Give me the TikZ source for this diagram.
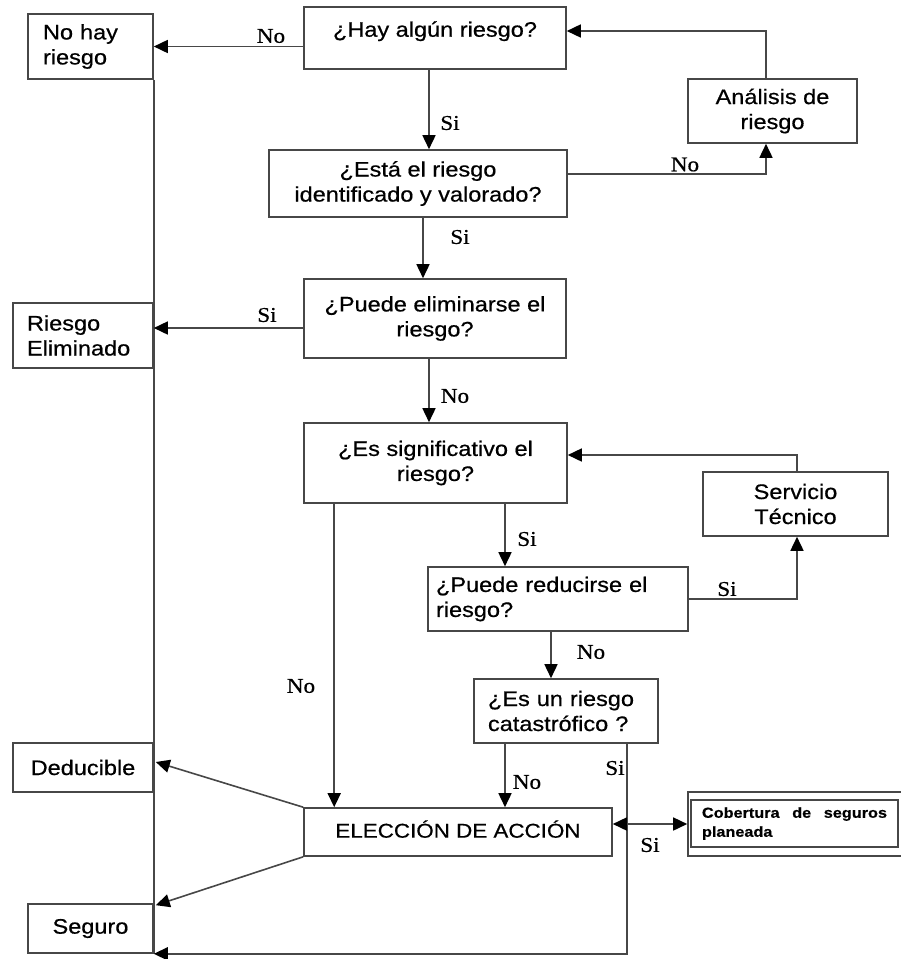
\documentclass[tikz,border=0pt]{standalone}
\usepackage{fontspec}
\setmainfont[FakeStretch=1.12,FakeBold=0.6]{Liberation Sans}
\newfontfamily\lblfont[FakeStretch=1.1,FakeBold=0.6]{Liberation Serif}
\usetikzlibrary{arrows.meta}
\tikzset{
  box/.style={draw=black!72, line width=1.6pt, inner sep=0pt, align=center,
    font=\fontsize{21}{25}\selectfont},
  lbox/.style={box, align=left},
  lbl/.style={font=\lblfont\fontsize{21}{25}\selectfont, inner sep=0pt},
  conn/.style={draw=black!72, line width=1.6pt},
  tip/.tip={Triangle[length=14pt,width=13pt,fill=black,color=black]},
  arr/.style={conn, -tip},
  dblarr/.style={conn, tip-tip}
}
\begin{document}
\begin{tikzpicture}[x=1pt,y=-1pt]
\useasboundingbox (0,0) rectangle (901,959);
% boxes
\node[box, minimum width=262pt, minimum height=62pt, text depth=18pt] (hay) at (435,38) {¿Hay algún riesgo?};
\node[lbox, minimum width=125pt, minimum height=65pt, text width=95pt, inner xsep=15pt] (nohay) at (90.5,46.5) {No hay\\riesgo};
\node[box, minimum width=169pt, minimum height=64pt] (anal) at (772.5,111) {Análisis de\\riesgo};
\node[box, minimum width=298pt, minimum height=67pt] (esta) at (418,183.5) {¿Está el riesgo\\identificado y valorado?};
\node[box, minimum width=262pt, minimum height=79pt] (puedeel) at (435,318.5) {¿Puede eliminarse el\\riesgo?};
\node[lbox, minimum width=140pt, minimum height=65pt, text width=112pt, inner xsep=14pt] (relim) at (83,335.5) {Riesgo\\Eliminado};
\node[box, minimum width=263pt, minimum height=80pt] (essig) at (435.5,463) {¿Es significativo el\\riesgo?};
\node[box, minimum width=185pt, minimum height=64pt] (serv) at (795.5,504) {Servicio\\Técnico};
\node[lbox, minimum width=260pt, minimum height=64pt, text width=244pt, inner xsep=8pt] (reduc) at (558,599) {¿Puede reducirse el\\riesgo?};
\node[lbox, minimum width=184pt, minimum height=64pt, text width=156pt, inner xsep=14pt] (catas) at (566,711) {¿Es un riesgo\\catastrófico ?};
\node[box, minimum width=308pt, minimum height=48pt, font=\fontsize{20}{24}\selectfont, text depth=6pt] (elec) at (458,832) {ELECCIÓN DE ACCIÓN};
\node[box, minimum width=140pt, minimum height=49pt] (deduc) at (83,767.5) {Deducible};
\node[box, minimum width=125pt, minimum height=49pt] (seguro) at (90.5,928.5) {Seguro};
\node[box, minimum width=218pt, minimum height=64pt] (cober) at (797,824) {};
\node[box, minimum width=207pt, minimum height=47pt, font=\bfseries\fontsize{14.5}{19}\selectfont] (coberin) at (794.5,823.5)
  {\parbox{185pt}{Cobertura\hfill de\hfill seguros\\planeada}};
% long vertical line
\draw[conn] (nohay.south east) -- (seguro.south east);
% connectors
\draw[arr] (hay.west |- nohay.east) -- (nohay.east);
\coordinate (c1) at ([xshift=-6pt]hay.south);
\draw[arr] (c1) -- (c1 |- esta.north);
\draw[arr] ([yshift=9.5pt]esta.east) -| ([xshift=-6.5pt]anal.south);
\draw[arr] ([xshift=-6.5pt]anal.north) |- ([yshift=7pt]hay.east);
\coordinate (c2) at ([xshift=5pt]esta.south);
\draw[arr] (c2) -- (c2 |- puedeel.north);
\coordinate (c3) at ([yshift=-9.5pt]puedeel.west);
\draw[arr] (c3) -- (c3 -| relim.east);
\coordinate (c4) at ([xshift=-6pt]puedeel.south);
\draw[arr] (c4) -- (c4 |- essig.north);
\draw[arr] ([xshift=1.5pt]serv.north) |- ([yshift=8pt]essig.east);
\coordinate (c5) at ([xshift=69.5pt]essig.south);
\draw[arr] (c5) -- (c5 |- reduc.north);
\draw[arr] (reduc.east) -| ([xshift=1.5pt]serv.south);
\coordinate (c6) at ([xshift=-7pt]reduc.south);
\draw[arr] (c6) -- (c6 |- catas.north);
\coordinate (c7) at ([xshift=-61pt]catas.south);
\draw[arr] (c7) -- (c7 |- elec.north);
\coordinate (c8) at ([xshift=61pt]catas.south);
\draw[arr] (c8) |- (seguro.south east);
\draw[dblarr] (elec.east |- cober.west) -- (cober.west);
\coordinate (c9) at ([xshift=31pt]essig.south west);
\draw[arr] (c9) -- (c9 |- elec.north);
\draw[arr] (elec.north west) -- ([xshift=2pt,yshift=5.5pt]deduc.east);
\draw[arr] (elec.south west) -- ([xshift=2pt,yshift=-2pt]seguro.north east);
% labels
\node[lbl] (l1) at (271,36) {No};
\node[lbl] (l2) at (450,123) {Si};
\node[lbl] (l3) at (685,164.5) {No};
\node[lbl] (l4) at (460,237) {Si};
\node[lbl] (l5) at (267,315) {Si};
\node[lbl] (l6) at (455,396) {No};
\node[lbl] (l7) at (527,539) {Si};
\node[lbl] (l8) at (727,589) {Si};
\node[lbl] (l9) at (591,652) {No};
\node[lbl] (l10) at (527,782) {No};
\node[lbl] (l11) at (615,768) {Si};
\node[lbl] (l12) at (650,845) {Si};
\node[lbl] (l13) at (301,686) {No};
\end{tikzpicture}
\end{document}
